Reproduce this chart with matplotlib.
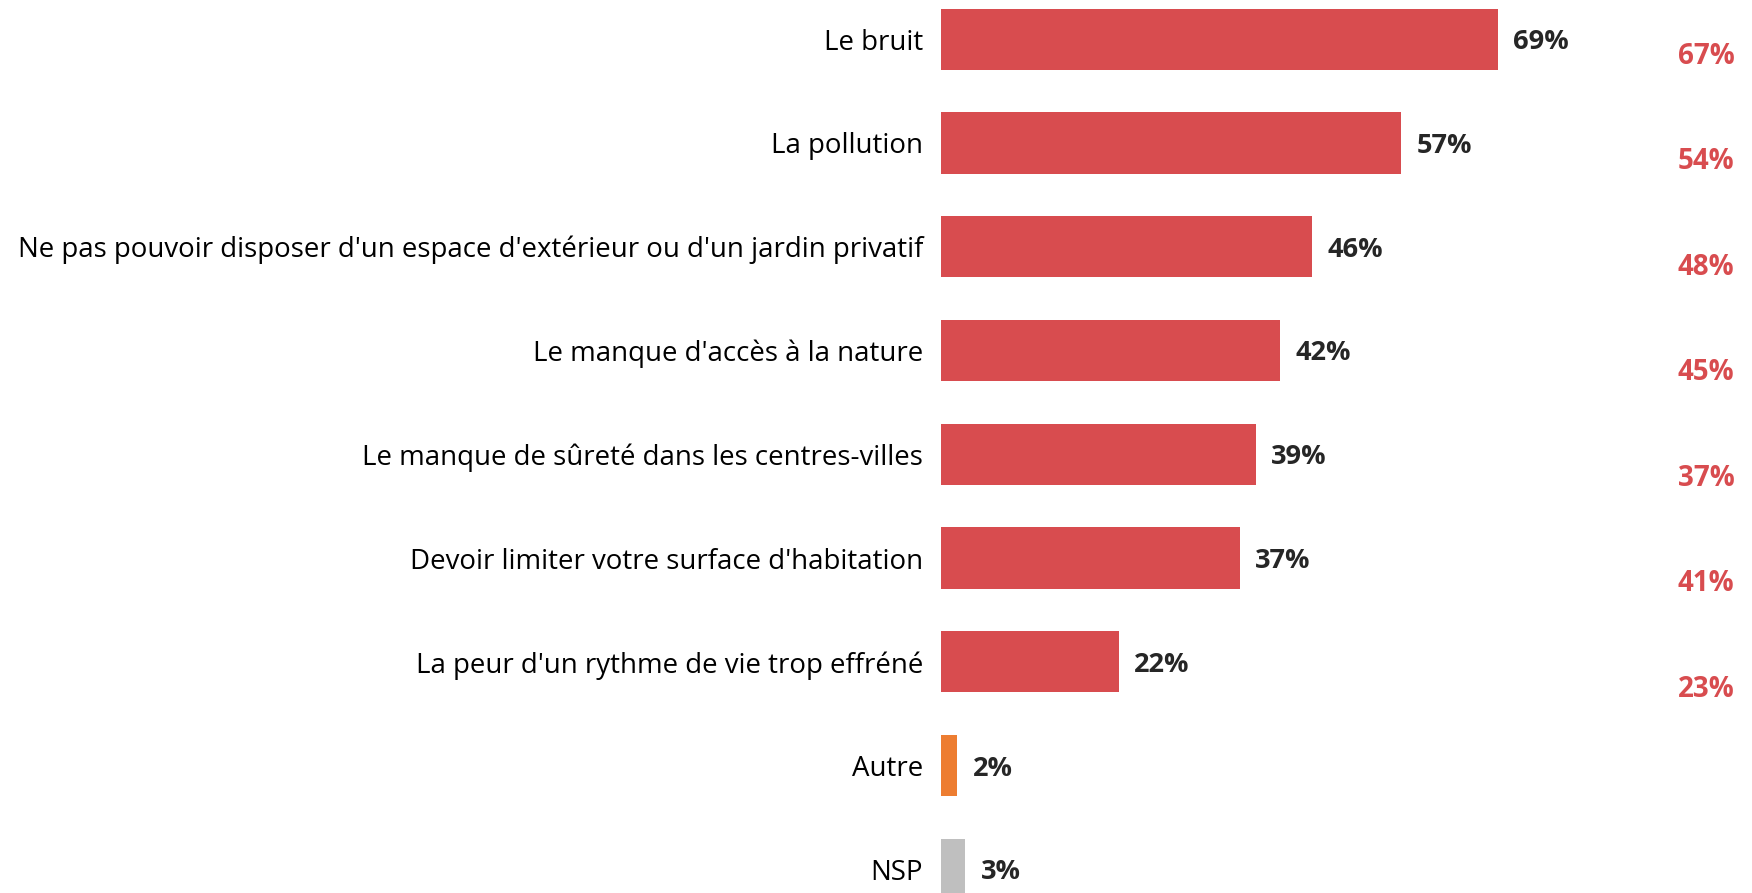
import matplotlib
matplotlib.use("Agg")
import matplotlib.pyplot as plt

categories = [
    "Le bruit",
    "La pollution",
    "Ne pas pouvoir disposer d'un espace d'extérieur ou d'un jardin privatif",
    "Le manque d'accès à la nature",
    "Le manque de sûreté dans les centres-villes",
    "Devoir limiter votre surface d'habitation",
    "La peur d'un rythme de vie trop effréné",
    "Autre",
    "NSP",
]
values = [69, 57, 46, 42, 39, 37, 22, 2, 3]
compare_values = [67, 54, 48, 45, 37, 41, 23]
colors = ["#D84C4F"] * 7 + ["#ED7D31", "#BFBFBF"]

RED = "#D84C4F"
DARK = "#262626"
FONT = "Open Sans"

fig = plt.figure(figsize=(17.52, 8.93), dpi=100)
ax = fig.add_axes([941 / 1752, 0, 1 - 941 / 1752, 1])

y = list(range(len(categories)))
ax.barh(y, values, height=0.59, color=colors)
ax.set_xlim(0, (1752 - 941) / 8.07)
ax.set_ylim(8.227, -0.377)

ax.set_yticks(y)
ax.set_yticklabels(categories, fontsize=19.9, family=FONT, color="black")
ax.tick_params(axis="y", length=0, pad=13)
ax.set_xticks([])
for s in ax.spines.values():
    s.set_visible(False)

for yi, v in zip(y, values):
    ax.text(v + 1.9, yi, f"{v}%", va="center_baseline", ha="left", fontsize=19.5,
            fontweight="bold", family=FONT, color=DARK)

for i, v in enumerate(compare_values):
    ax.text(98.3, i * 1.017 + 0.13, f"{v}%", va="center_baseline", ha="right",
            fontsize=20, fontweight="bold", family=FONT, color=RED)

fig.savefig("out.png", dpi=100)
